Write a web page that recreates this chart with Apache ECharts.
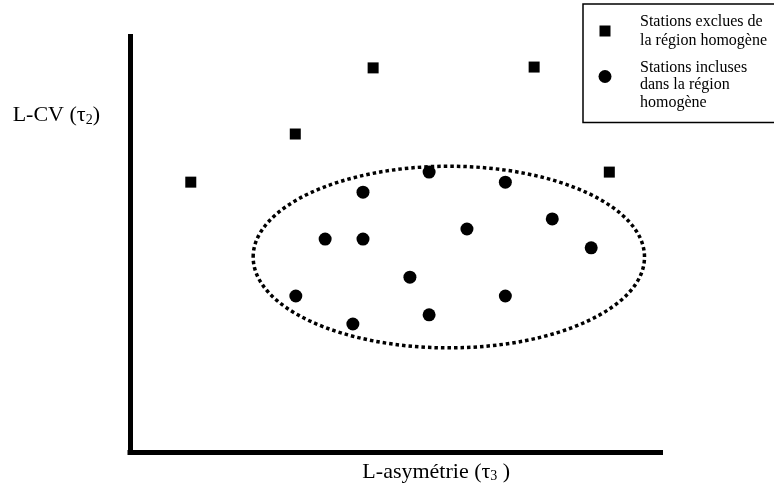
<!DOCTYPE html>
<html>
<head>
<meta charset="utf-8">
<script src="https://cdn.jsdelivr.net/npm/echarts@6/dist/echarts.min.js"></script>
<style>html,body{margin:0;padding:0;background:#fff}#c{width:774px;height:498px}</style>
</head>
<body>
<div id="c"></div>
<script>
// Stations excluded from the homogeneous region [L-skewness, L-CV] (relative units)
const excludedStations = [
  [11.4, 64.6], [31.0, 76.1], [45.6, 91.9], [75.8, 92.1], [89.9, 67.0]
];
// Stations included in the homogeneous region
const includedStations = [
  [56.1, 67.0], [70.4, 64.6], [43.7, 62.2], [79.2, 55.8], [63.2, 53.4],
  [36.6, 51.0], [43.7, 51.0], [86.5, 48.9], [52.5, 41.9], [31.1, 37.4],
  [70.4, 37.4], [56.1, 32.9], [41.8, 30.7]
];
// Homogeneous region outline: [centerX, centerY, radiusX, radiusY]
const regionEllipse = [[59.8, 46.7, 36.7, 21.7]];
const nameExcluded = 'Stations exclues de\nla région homogène';
const nameIncluded = 'Stations incluses\ndans la région\nhomogène';

const FONT = '"Liberation Serif", "DejaVu Serif", serif';
const chart = echarts.init(document.getElementById('c'));
chart.setOption({
  animation: false,
  backgroundColor: '#fff',
  grid: { left: 130, right: 113.5, top: 36.5, bottom: 45.5 },
  xAxis: {
    type: 'value', min: 0, max: 99.5,
    name: 'L-asymétrie (τ{sub|3} )', nameLocation: 'middle', nameGap: 8,
    nameTextStyle: {
      fontFamily: FONT, fontSize: 22, color: '#000', verticalAlign: 'top',
      padding: [0, 0, 0, 82],
      rich: { sub: { fontFamily: FONT, fontSize: 14, color: '#000', verticalAlign: 'bottom', padding: [9, 0, 0, 0] } }
    },
    axisLine: { show: true, lineStyle: { color: '#000', width: 5, cap: 'square' } },
    axisTick: { show: false }, axisLabel: { show: false }, splitLine: { show: false }
  },
  yAxis: {
    type: 'value', min: 0, max: 99.4,
    name: 'L-CV (τ{sub|2})', nameLocation: 'end', nameGap: -79,
    nameTextStyle: {
      fontFamily: FONT, fontSize: 22, color: '#000', align: 'right', verticalAlign: 'middle',
      padding: [0, 30, 0, 0],
      rich: { sub: { fontFamily: FONT, fontSize: 14, color: '#000', verticalAlign: 'bottom', padding: [9, 0, 0, 0] } }
    },
    axisLine: { show: true, lineStyle: { color: '#000', width: 5, cap: 'square' } },
    axisTick: { show: false }, axisLabel: { show: false }, splitLine: { show: false }
  },
  legend: [
    {
      data: [{ name: nameExcluded, icon: 'rect' }],
      left: 599.5, top: 12, padding: 0, itemWidth: 11, itemHeight: 11,
      selectedMode: false,
      textStyle: { fontFamily: FONT, fontSize: 16, lineHeight: 19, color: '#000', padding: [0, 0, 0, 24.5] }
    },
    {
      data: [{ name: nameIncluded, icon: 'circle' }],
      formatter: function (n) { return '\n' + n; },
      left: 598.5, top: 41.5, padding: 0, itemWidth: 13, itemHeight: 13,
      selectedMode: false,
      textStyle: { fontFamily: FONT, fontSize: 16, lineHeight: 17.5, color: '#000', padding: [0, 0, 0, 23.5] }
    }
  ],
  graphic: [{
    type: 'rect', left: 580.5, top: 1.5, silent: true,
    shape: { width: 200, height: 118.5 },
    style: { fill: 'none', stroke: '#000', lineWidth: 1.5 }
  }],
  series: [
    {
      name: nameExcluded, type: 'scatter', data: excludedStations,
      symbol: 'rect', symbolSize: 11, itemStyle: { color: '#000', opacity: 1 }
    },
    {
      name: nameIncluded, type: 'scatter', data: includedStations,
      symbol: 'circle', symbolSize: 13, itemStyle: { color: '#000', opacity: 1 }
    },
    {
      type: 'custom', data: regionEllipse, silent: true, clip: false,
      renderItem: function (params, api) {
        const c = api.coord([api.value(0), api.value(1)]);
        const s = api.size([api.value(2), api.value(3)]);
        return {
          type: 'ellipse',
          shape: { cx: c[0], cy: c[1], rx: s[0], ry: s[1] },
          style: { fill: 'none', stroke: '#000', lineWidth: 3.5, lineDash: [3.5, 3] }
        };
      }
    }
  ]
});
</script>
</body>
</html>
